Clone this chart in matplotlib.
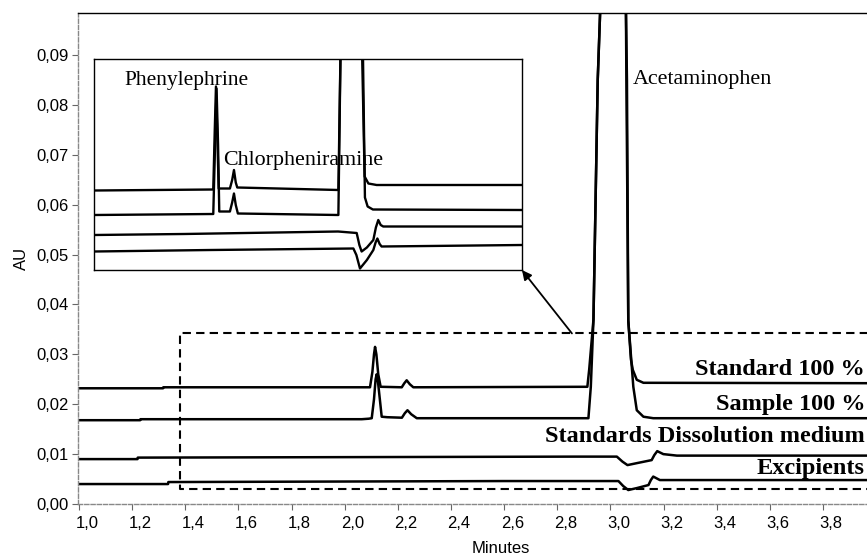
import matplotlib
matplotlib.use('Agg')
import matplotlib.pyplot as plt
from matplotlib.transforms import ScaledTranslation, blended_transform_factory
from matplotlib.ticker import FuncFormatter, FixedLocator

# ---------------- main chromatograms (minutes, AU) ----------------
std_t = [0.996, 1.316, 1.317, 2.095, 2.104, 2.110, 2.114, 2.119, 2.126, 2.135,
         2.2145, 2.224, 2.233, 2.245, 2.258, 2.913, 2.920, 2.936, 2.952, 2.962,
         3.005, 3.058, 3.060, 3.067, 3.077, 3.084, 3.099, 3.124, 4.18]
std_au = [0.0232, 0.0232, 0.0234, 0.0234, 0.0265, 0.0300, 0.0315, 0.0300, 0.0260, 0.0235,
          0.0234, 0.0242, 0.0248, 0.0240, 0.0234, 0.0235, 0.0270, 0.0370, 0.0850, 0.1000,
          0.5500, 0.1000, 0.0850, 0.0368, 0.0290, 0.0269, 0.0249, 0.0243, 0.0242]

smp_t = [0.996, 1.230, 1.231, 2.064, 2.090, 2.1015, 2.110, 2.116, 2.120, 2.125, 2.132,
         2.139, 2.160, 2.215, 2.226, 2.236, 2.250, 2.271, 2.917, 2.926, 2.936, 2.952,
         2.962, 3.005, 3.058, 3.062, 3.067, 3.086, 3.099, 3.124, 3.161, 4.18]
smp_au = [0.0168, 0.0168, 0.0170, 0.0170, 0.0171, 0.0172, 0.0210, 0.0250, 0.0260, 0.0245, 0.0210,
          0.0175, 0.0174, 0.0173, 0.0182, 0.0188, 0.0180, 0.0172, 0.0172, 0.0235, 0.0370, 0.0850,
          0.1000, 0.5500, 0.1000, 0.0850, 0.0368, 0.0235, 0.0188, 0.0175, 0.0172, 0.0172]

dis_t = [0.996, 1.220, 1.221, 2.870, 3.024, 3.045, 3.064, 3.100, 3.155, 3.165, 3.176, 3.199, 3.250, 4.18]
dis_au = [0.0090, 0.0090, 0.0093, 0.0095, 0.0095, 0.0085, 0.0078, 0.0082, 0.0088, 0.0098, 0.0106, 0.0100, 0.0097, 0.0097]

exc_t = [0.996, 1.335, 1.336, 2.600, 3.030, 3.048, 3.067, 3.100, 3.143, 3.152, 3.161, 3.186, 3.250, 4.18]
exc_au = [0.0040, 0.0040, 0.0044, 0.0046, 0.0046, 0.0036, 0.0028, 0.0032, 0.0038, 0.0048, 0.0055, 0.0048, 0.0048, 0.0048]

# ---------------- inset (zoomed) chromatograms ----------------
ins_std_t = [1.301, 2.096, 2.106, 2.114, 2.122, 2.132, 2.207, 2.222, 2.234, 2.246, 2.256,
             2.930, 2.945, 3.013, 3.087, 3.105, 3.130, 3.185, 4.154]
ins_std_v = [0.0159, 0.0161, 0.0280, 0.0367, 0.0280, 0.0163, 0.0163, 0.0180, 0.0200, 0.0175, 0.0165,
             0.0160, 0.0450, 0.3000, 0.0450, 0.0187, 0.0173, 0.0170, 0.0170]

ins_smp_t = [1.301, 2.096, 2.108, 2.118, 2.128, 2.136, 2.207, 2.222, 2.234, 2.246, 2.260,
             2.930, 2.945, 3.013, 3.093, 3.107, 3.125, 3.160, 4.154]
ins_smp_v = [0.0110, 0.0112, 0.0250, 0.0363, 0.0250, 0.0117, 0.0117, 0.0135, 0.0153, 0.0130, 0.0113,
             0.0110, 0.0450, 0.3000, 0.0450, 0.0145, 0.0127, 0.0121, 0.0120]

ins_dis_t = [1.301, 1.900, 2.928, 3.052, 3.070, 3.085, 3.120, 3.163, 3.180, 3.196, 3.212, 3.229, 4.154]
ins_dis_v = [0.0070, 0.0072, 0.0077, 0.0074, 0.0050, 0.0037, 0.0045, 0.0060, 0.0085, 0.0100, 0.0090, 0.0087, 0.0087]

ins_exc_t = [1.301, 2.080, 3.030, 3.050, 3.074, 3.120, 3.163, 3.178, 3.190, 3.205, 3.218, 4.154]
ins_exc_v = [0.0037, 0.0040, 0.0043, 0.0030, 0.0003, 0.0020, 0.0040, 0.0055, 0.0063, 0.0052, 0.0047, 0.0050]

x_ticks = [1.0, 1.2, 1.4, 1.6, 1.8, 2.0, 2.2, 2.4, 2.6, 2.8, 3.0, 3.2, 3.4, 3.6, 3.8]
y_ticks = [0.00, 0.01, 0.02, 0.03, 0.04, 0.05, 0.06, 0.07, 0.08, 0.09]

trace_labels = ['Standard 100 %', 'Sample 100 %', 'Standards Dissolution medium', 'Excipients']
label_pos_au = [0.0259, 0.0188, 0.0124, 0.0060]

# ---------------- figure ----------------
W, H = 867, 557
fig = plt.figure(figsize=(W / 100, H / 100), dpi=100)
ax = fig.add_axes([78 / W, (H - 504) / H, 846 / W, (504 - 12.7) / H])

ax.set_xlim(0.996, 4.18)
ax.set_ylim(0, 0.0985)

lw = 1.8
for t, v in [(std_t, std_au), (smp_t, smp_au), (dis_t, dis_au), (exc_t, exc_au)]:
    ax.plot(t, v, color='black', lw=lw, solid_joinstyle='round')

# dashed zoom rectangle
ax.plot([4.3, 1.38, 1.38, 4.3], [0.0342, 0.0342, 0.00295, 0.00295],
        color='black', lw=1.5, ls=(0, (4, 2.5)), clip_on=True)

serif = ['Liberation Serif', 'DejaVu Serif']
sans = ['Liberation Sans', 'DejaVu Sans']

# trace labels, right-aligned at the right edge of the figure
lab_tr = blended_transform_factory(fig.transFigure, ax.transData)
for lab, ty in zip(trace_labels, label_pos_au):
    ax.text(865 / W, ty, lab, family=serif, fontweight='bold', fontsize=17.5,
            ha='right', va='baseline', transform=lab_tr, clip_on=False)

ax.text(3.085, 0.0842, 'Acetaminophen', family=serif, fontsize=15.8, ha='left', va='baseline')

# spines
ax.spines['right'].set_visible(False)
ax.spines['top'].set_color('black')
ax.spines['top'].set_linewidth(1.0)
for s in ['left', 'bottom']:
    ax.spines[s].set_color('#888888')
    ax.spines[s].set_linestyle((0, (3, 1.5)))
    ax.spines[s].set_linewidth(1.0)

ax.xaxis.set_major_locator(FixedLocator(x_ticks))
ax.yaxis.set_major_locator(FixedLocator(y_ticks))
ax.xaxis.set_major_formatter(FuncFormatter(lambda v, p: f'{v:.1f}'.replace('.', ',')))
ax.yaxis.set_major_formatter(FuncFormatter(lambda v, p: f'{v:.2f}'.replace('.', ',')))
ax.tick_params(axis='both', direction='out', length=4, width=0.8, color='#666666',
               labelsize=12, pad=3)
ax.tick_params(axis='x', pad=5)
for lbl in ax.get_xticklabels() + ax.get_yticklabels():
    lbl.set_family(sans)
for lbl in ax.get_xticklabels():
    lbl.set_transform(lbl.get_transform() + ScaledTranslation(8 / 100, 0, fig.dpi_scale_trans))

ax.set_xlabel('Minutes', family=sans, fontsize=12, labelpad=7)
ax.set_ylabel('AU', family=sans, fontsize=12)
ax.yaxis.set_label_coords(-0.058, 0.5)

# arrow from zoom rectangle to inset
ax.annotate('', xy=(2.667, 0.0469), xytext=(2.855, 0.0342),
            arrowprops=dict(arrowstyle='-|>', color='black', lw=1.3,
                            mutation_scale=14, shrinkA=0, shrinkB=0))

# ---------------- inset ----------------
ins = fig.add_axes([94 / W, (H - 270) / H, 428 / W, 211 / H])
ins.set_xlim(1.301, 4.154)
ins.set_ylim(0, 0.0422)
for t, v in [(ins_std_t, ins_std_v), (ins_smp_t, ins_smp_v),
             (ins_dis_t, ins_dis_v), (ins_exc_t, ins_exc_v)]:
    ins.plot(t, v, color='black', lw=1.7, solid_joinstyle='round')
ins.set_xticks([])
ins.set_yticks([])
for s in ins.spines.values():
    s.set_color('black')
    s.set_linewidth(1.0)
ins.text(1.507, 0.0370, 'Phenylephrine', family=serif, fontsize=15.5, ha='left', va='baseline')
ins.text(2.161, 0.0210, 'Chlorpheniramine', family=serif, fontsize=15.8, ha='left', va='baseline')

fig.savefig('out.png', dpi=100)
